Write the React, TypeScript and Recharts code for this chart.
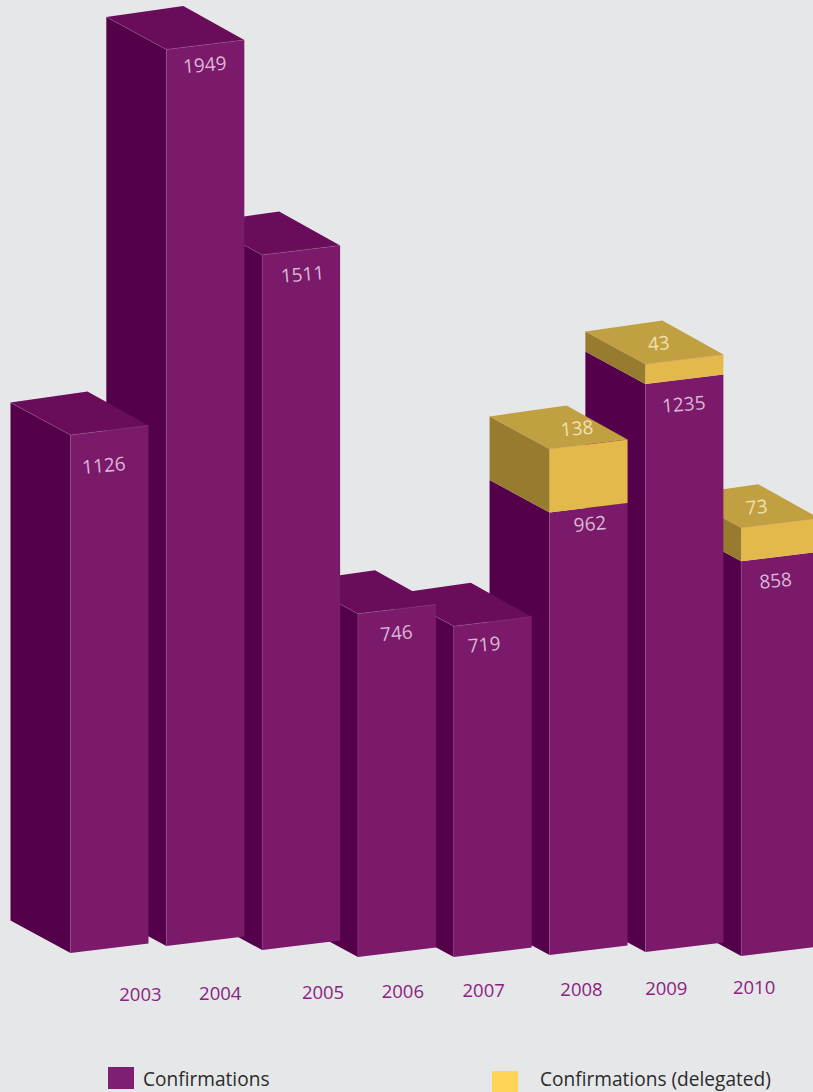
import { Bar, BarChart, XAxis, YAxis } from 'recharts';

const years = ['2003', '2004', '2005', '2006', '2007', '2008', '2009', '2010'];
const confirmations = [1126, 1949, 1511, 746, 719, 962, 1235, 858];
const delegated = [0, 0, 0, 0, 0, 138, 43, 73];

// the boxes do not sit on one line, each year has its own small drop
const baseDrop = [0, -7, -3, 4, 4, 2, -1, 3];
// hand placement of the printed numbers and year captions
const valueNudge = [
  [-4, 14],
  [1, -1],
  [3, 3],
  [1, 3],
  [-7, 2],
  [3, -5],
  [1, 4],
  [-3, 3],
];
const delegatedNudge = [0, 0, 0, 0, 0, 28, 14, 16];
const yearNudge = [
  [31, 40],
  [15, 39],
  [22, 38],
  [6, 37],
  [-9, 36],
  [-7, 35],
  [-18, 34],
  [-26, 33],
];

const FONT = '"Open Sans", sans-serif';
const PURPLE = { front: '#7b1a6b', side: '#54004b', top: '#690c5a', edge: '#a4689c' };
const GOLD = { front: '#e3b94b', side: '#977c2f', top: '#c1a041', edge: '#c58a5c' };

// drawn right to left, so nearer boxes cover the ones behind them
const rows = years
  .map((year, i) => ({ year, i, confirmations: confirmations[i], delegated: delegated[i], total: confirmations[i] + delegated[i] }))
  .reverse();

const SKEW = 9.5; // front face rises to the right
const DEPTH_X = 60;
const DEPTH_Y = 32.5;

const pts = (list: number[][]) => list.map((p) => p.join(',')).join(' ');

function Block({ x, w, top, bottom, colors, cap }: any) {
  return (
    <g>
      <polygon points={pts([[x, top], [x, bottom], [x - DEPTH_X, bottom - DEPTH_Y], [x - DEPTH_X, top - DEPTH_Y]])} fill={colors.side} />
      <polygon points={pts([[x, top], [x + w, top - SKEW], [x + w, bottom - SKEW], [x, bottom]])} fill={colors.front} />
      {cap && (
        <>
          <polygon points={pts([[x, top], [x + w, top - SKEW], [x + 17, top - 43.5], [x - DEPTH_X, top - DEPTH_Y]])} fill={colors.top} />
          <polyline points={pts([[x - DEPTH_X, top - DEPTH_Y], [x, top], [x + w, top - SKEW]])} fill="none" stroke={colors.edge} strokeWidth={0.5} strokeOpacity={0.7} />
        </>
      )}
      <line x1={x} y1={top} x2={x} y2={bottom} stroke={colors.edge} strokeWidth={0.5} strokeOpacity={0.5} />
    </g>
  );
}

function Box(props: any) {
  const { x, y, width, height, payload } = props;
  const { i, total } = payload;
  const drop = baseDrop[i];
  const bottom = y + height + drop;
  const top = y + drop;
  // the stack shares one bar so gold never paints over a nearer box
  const split = bottom - (height * payload.confirmations) / total;
  const hasGold = payload.delegated > 0;
  const vx = x + 38 + valueNudge[i][0];
  const vy = split + 23 + valueNudge[i][1];
  const gx = x + delegatedNudge[i];
  const gy = top - 14;
  return (
    <g>
      <Block x={x} w={width} top={split} bottom={bottom} colors={PURPLE} cap={!hasGold} />
      {hasGold && <Block x={x} w={width} top={top} bottom={split} colors={GOLD} cap />}
      <text x={vx} y={vy} textAnchor="middle" fontFamily={FONT} fontSize={19} fill="#d8b8d3" transform={`rotate(-5 ${vx} ${vy})`}>
        {payload.confirmations}
      </text>
      {hasGold && (
        <text x={gx} y={gy} textAnchor="middle" fontFamily={FONT} fontSize={19} fill="#efe2ae" transform={`rotate(-5 ${gx} ${gy})`}>
          {payload.delegated}
        </text>
      )}
    </g>
  );
}

function YearTick({ x, y, payload }: any) {
  const i = years.indexOf(payload.value);
  return (
    <text x={x + yearNudge[i][0]} y={y + yearNudge[i][1]} textAnchor="middle" fontFamily={FONT} fontSize={18.5} fill="#8a2382">
      {payload.value}
    </text>
  );
}

function LegendEntry({ color, label, boxX, boxY, textX, textY }: any) {
  return (
    <>
      <div style={{ position: 'absolute', left: boxX, top: boxY, width: 26, height: 22, background: color }} />
      <div style={{ position: 'absolute', left: textX, top: textY, fontFamily: FONT, fontSize: 19.1, lineHeight: '24px', color: '#2b2b2b', whiteSpace: 'nowrap' }}>
        {label}
      </div>
    </>
  );
}

export default function App() {
  return (
    <div style={{ position: 'absolute', left: 0, top: 0, width: 813, height: 1092, overflow: 'hidden', background: '#e6e7e9' }}>
      <BarChart width={840} height={1092} data={rows} margin={{ top: 33, right: 12, bottom: 79, left: 61.5 }}>
        <XAxis dataKey="year" reversed height={60} axisLine={false} tickLine={false} interval={0} tick={<YearTick />} />
        <YAxis hide domain={[0, 2000]} />
        <Bar dataKey="total" barSize={78} shape={<Box />} isAnimationActive={false} />
      </BarChart>
      <LegendEntry color="#7f1f73" label="Confirmations" boxX={108} boxY={1067} textX={143} textY={1067} />
      <LegendEntry color="#ffd457" label="Confirmations (delegated)" boxX={492} boxY={1071} textX={540} textY={1067} />
    </div>
  );
}
